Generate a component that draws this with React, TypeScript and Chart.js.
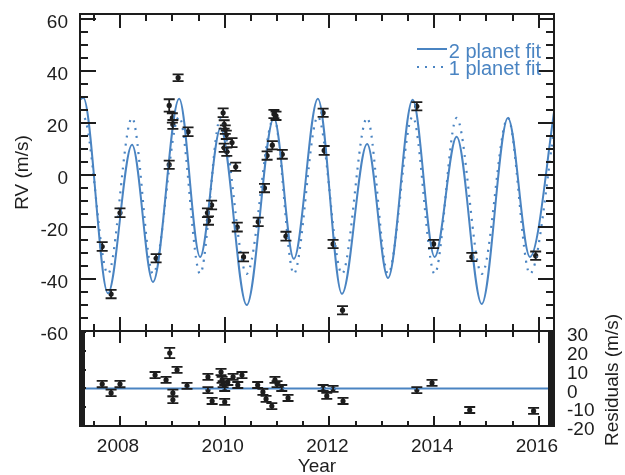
import React, { useEffect, useRef } from 'react';
import { Chart, registerables } from 'chart.js';

Chart.register(...registerables);

const FONT = "'Liberation Sans', Arial, Helvetica, sans-serif";
const BLUE = '#4a84c2';
const INK = '#1d1d1d';

// ---- axes ----
const X_MIN = 2007.236;
const X_MAX = 2016.29;
const xTickLabels = [2008, 2010, 2012, 2014, 2016];
const xMinorTicks = [2007.5, 2008, 2008.5, 2009, 2009.5, 2010, 2010.5, 2011, 2011.5, 2012, 2012.5, 2013, 2013.5, 2014, 2014.5, 2015, 2015.5, 2016];
const rvTickLabels = [-60, -40, -20, 0, 20, 40, 60];
const rvMinorTicks = [-60, -55, -50, -45, -40, -35, -30, -25, -20, -15, -10, -5, 0, 5, 10, 15, 20, 25, 30, 35, 40, 45, 50, 55, 60];
const resTickLabels = [-20, -10, 0, 10, 20, 30];

// ---- model curves (extrema) ----
const fitYears = [2007.2, 2007.3, 2007.77, 2008.23, 2008.63, 2009.13, 2009.53, 2009.92, 2010.42, 2010.94, 2011.32, 2011.78, 2012.24, 2012.72, 2013.12, 2013.59, 2014.01, 2014.43, 2014.91, 2015.41, 2015.83, 2016.33];
const twoPlanetFit = [28.5, 29.8, -45.5, 11.7, -41.1, 29.4, -31.5, 18, -50, 22, -32.2, 29.4, -45.7, 12, -39.6, 29, -31.5, 14.8, -49.6, 22, -31.5, 29.5];
const onePlanetFit = [21.5, 22.5, -38, 22, -38, 22.5, -38, 22, -38, 22, -38, 22.5, -38, 22, -38, 22.5, -38, 22, -38, 22, -38, 22.5];

// ---- RV observations ----
const rvYears = [2007.66, 2007.83, 2008.0, 2008.69, 2008.94, 2008.94, 2009.0, 2009.01, 2009.11, 2009.3, 2009.67, 2009.69, 2009.75, 2009.97, 2009.99, 2010.01, 2010.03, 2009.99, 2010.04, 2010.14, 2010.21, 2010.24, 2010.36, 2010.64, 2010.76, 2010.81, 2010.91, 2010.94, 2010.98, 2011.1, 2011.17, 2011.88, 2011.9, 2012.07, 2012.25, 2013.67, 2013.99, 2014.72, 2015.94];
const rvValues = [-27.5, -45.8, -14.5, -32, 4, 26.8, 22, 19.5, 37.5, 16.7, -14.5, -17.5, -11.5, 24, 19.5, 17.5, 15.5, 10.5, 9, 12.5, 3.2, -20, -31.5, -18, -5, 7.5, 11.5, 23.5, 22.8, 8, -23.5, 24, 9.5, -26.5, -52, 26.5, -26.5, -31.5, -31];
const rvErrors = [1.7, 1.6, 1.7, 1.6, 1.6, 2.4, 1.8, 1.7, 1.3, 1.7, 1.7, 1.6, 1.7, 1.7, 1.6, 1.6, 1.6, 1.6, 1.6, 1.7, 1.6, 1.7, 1.7, 1.6, 1.6, 1.6, 1.6, 1.6, 1.6, 1.7, 1.7, 1.6, 1.7, 1.6, 1.6, 1.6, 1.6, 1.6, 1.6];

// ---- residuals ----
const resYears = [2007.66, 2007.83, 2008.0, 2008.67, 2008.88, 2008.95, 2009.01, 2009.01, 2009.09, 2009.28, 2009.68, 2009.68, 2009.76, 2009.93, 2009.95, 2009.97, 2010.0, 2010.0, 2010.06, 2010.16, 2010.25, 2010.33, 2010.63, 2010.73, 2010.79, 2010.9, 2010.96, 2011.0, 2011.09, 2011.21, 2011.88, 2011.95, 2012.07, 2012.26, 2013.67, 2013.96, 2014.68, 2015.9];
const resValues = [2.3, -2.4, 2.3, 7.1, 4.5, 18.8, -2.4, -6.1, 9.8, 1.3, 6.1, -0.9, -6.7, 8.7, 4.5, 2.3, 0.2, -7.2, 3.4, 6.1, 1.8, 7.1, 1.8, -1.9, -5.6, -9.4, 4.5, 2.3, 0.2, -5.1, 0.2, -4, -0.3, -6.7, -0.9, 2.9, -11.5, -12];
const resErrors = [1.7, 1.7, 1.7, 1.6, 1.6, 2.7, 1.7, 1.7, 1.6, 1.6, 1.6, 1.6, 1.6, 1.7, 1.6, 1.6, 1.6, 1.6, 1.6, 1.6, 1.6, 1.6, 1.6, 1.6, 1.6, 1.6, 1.6, 1.6, 1.6, 1.6, 1.6, 1.6, 1.6, 1.6, 1.6, 1.6, 1.6, 1.6];

// canvas placement (page px)
const BOT_TOP = 290;
const BOT_H = 200;

type FrameCfg = {
  yTicks: number[];
  yMajor: number[];
  topMajor: number; topMinor: number;
  botMajor: number; botMinor: number;
  sideMajor: number; sideMinor: number;
  barL: number; barR: number;
};

function makeFramePlugin(id: string, cfg: FrameCfg) {
  return {
    id,
    afterDatasetsDraw(chart: any) {
      const { ctx, chartArea } = chart;
      const { left, right, top, bottom } = chartArea;
      const xs = chart.scales.x;
      const ys = chart.scales.y;
      ctx.save();
      ctx.strokeStyle = INK;
      ctx.fillStyle = INK;
      ctx.lineWidth = 2;
      ctx.lineCap = 'butt';
      ctx.setLineDash([]);
      ctx.beginPath();
      xMinorTicks.forEach((v) => {
        const px = Math.round(xs.getPixelForValue(v));
        const major = xTickLabels.includes(v);
        const tl = major ? cfg.topMajor : cfg.topMinor;
        const bl = major ? cfg.botMajor : cfg.botMinor;
        ctx.moveTo(px, top);
        ctx.lineTo(px, top + tl);
        ctx.moveTo(px, bottom);
        ctx.lineTo(px, bottom - bl);
      });
      cfg.yTicks.forEach((v) => {
        const py = Math.round(ys.getPixelForValue(v));
        if (py < top - 0.5 || py > bottom + 0.5) return;
        const major = cfg.yMajor.includes(v);
        const len = major ? cfg.sideMajor : cfg.sideMinor;
        ctx.moveTo(left, py);
        ctx.lineTo(left + len, py);
        ctx.moveTo(right, py);
        ctx.lineTo(right - len, py);
      });
      ctx.stroke();
      ctx.strokeRect(left, top, right - left, bottom - top);
      if (cfg.barL) ctx.fillRect(left, top, cfg.barL, bottom - top);
      if (cfg.barR) ctx.fillRect(right - cfg.barR, top, cfg.barR, bottom - top);
      ctx.restore();
    },
  };
}

function makeErrorBarPlugin(id: string, datasetIndex: number, errors: number[]) {
  return {
    id,
    afterDatasetsDraw(chart: any) {
      const { ctx } = chart;
      const ds = chart.data.datasets[datasetIndex];
      const xs = chart.scales.x;
      const ys = chart.scales.y;
      ctx.save();
      ctx.strokeStyle = INK;
      ctx.lineWidth = 1.8;
      ctx.setLineDash([]);
      ctx.beginPath();
      ds.data.forEach((p: any, i: number) => {
        const px = xs.getPixelForValue(p.x);
        const y1 = ys.getPixelForValue(p.y - errors[i]);
        const y2 = ys.getPixelForValue(p.y + errors[i]);
        ctx.moveTo(px, y1);
        ctx.lineTo(px, y2);
        ctx.moveTo(px - 5.5, y1);
        ctx.lineTo(px + 5.5, y1);
        ctx.moveTo(px - 5.5, y2);
        ctx.lineTo(px + 5.5, y2);
      });
      ctx.stroke();
      ctx.restore();
    },
  };
}

const legendPlugin = {
  id: 'fitLegend',
  afterDatasetsDraw(chart: any) {
    const { ctx } = chart;
    const two = chart.data.datasets[1].label;
    const one = chart.data.datasets[0].label;
    ctx.save();
    ctx.font = `20px ${FONT}`;
    ctx.fillStyle = BLUE;
    ctx.textAlign = 'right';
    ctx.textBaseline = 'middle';
    ctx.fillText(two, 541, 52);
    ctx.fillText(one, 541, 69);
    ctx.strokeStyle = BLUE;
    ctx.lineWidth = 2;
    ctx.beginPath();
    ctx.moveTo(417, 49);
    ctx.lineTo(447, 49);
    ctx.stroke();
    ctx.setLineDash([2, 6]);
    ctx.beginPath();
    ctx.moveTo(417, 67);
    ctx.lineTo(449, 67);
    ctx.stroke();
    ctx.restore();
  },
};

const residualTitlePlugin = {
  id: 'resTitle',
  afterDraw(chart: any) {
    const { ctx } = chart;
    ctx.save();
    ctx.font = `19px ${FONT}`;
    ctx.fillStyle = INK;
    ctx.textAlign = 'center';
    ctx.textBaseline = 'middle';
    ctx.translate(613, 380 - BOT_TOP);
    ctx.rotate(-Math.PI / 2);
    ctx.fillText('Residuals (m/s)', 0, 0);
    ctx.restore();
  },
};

const tickFont = { family: FONT, size: 19 };

export default function App() {
  const topRef = useRef<HTMLCanvasElement>(null);
  const botRef = useRef<HTMLCanvasElement>(null);

  useEffect(() => {
    const topChart = new Chart(topRef.current as HTMLCanvasElement, {
      type: 'line',
      data: {
        datasets: [
          {
            label: '1 planet fit',
            data: fitYears.map((x, i) => ({ x, y: onePlanetFit[i] })),
            borderColor: BLUE,
            borderWidth: 2.2,
            borderDash: [2, 6],
            pointRadius: 0,
            cubicInterpolationMode: 'monotone',
            fill: false,
          },
          {
            label: '2 planet fit',
            data: fitYears.map((x, i) => ({ x, y: twoPlanetFit[i] })),
            borderColor: BLUE,
            borderWidth: 2,
            pointRadius: 0,
            cubicInterpolationMode: 'monotone',
            fill: false,
          },
          {
            label: 'RV',
            data: rvYears.map((x, i) => ({ x, y: rvValues[i] })),
            showLine: false,
            pointRadius: 2.6,
            pointBackgroundColor: INK,
            pointBorderWidth: 0,
            borderColor: INK,
          },
        ],
      } as any,
      options: {
        responsive: false,
        animation: false,
        events: [],
        layout: { padding: { top: 14, right: 71, bottom: 19, left: 0 } },
        plugins: { legend: { display: false }, tooltip: { enabled: false } },
        scales: {
          x: { type: 'linear', min: X_MIN, max: X_MAX, display: false },
          y: {
            type: 'linear',
            position: 'left',
            min: -60,
            max: 62,
            afterBuildTicks: (s: any) => {
              s.ticks = rvTickLabels.map((v) => ({ value: v }));
            },
            afterFit: (s: any) => {
              s.width = 80;
              s.paddingTop = 0;
              s.paddingBottom = 0;
            },
            grid: { display: false, drawTicks: false },
            border: { display: false },
            ticks: {
              padding: 12,
              labelOffset: 4,
              autoSkip: false,
              color: INK,
              font: tickFont,
              callback: (v: any) => String(v),
            },
            title: {
              display: true,
              text: 'RV (m/s)',
              color: INK,
              font: tickFont,
              padding: { top: 11, bottom: 0 },
            },
          },
        },
      } as any,
      plugins: [
        makeFramePlugin('frameTop', {
          yTicks: rvMinorTicks,
          yMajor: rvTickLabels,
          topMajor: 14, topMinor: 7,
          botMajor: 14, botMinor: 7,
          sideMajor: 16, sideMinor: 8,
          barL: 0, barR: 0,
        }),
        makeErrorBarPlugin('errTop', 2, rvErrors),
        legendPlugin,
      ],
    });

    const botChart = new Chart(botRef.current as HTMLCanvasElement, {
      type: 'line',
      data: {
        datasets: [
          {
            label: 'zero',
            data: [{ x: X_MIN, y: 0 }, { x: X_MAX, y: 0 }],
            borderColor: BLUE,
            borderWidth: 2,
            pointRadius: 0,
          },
          {
            label: 'Residuals',
            data: resYears.map((x, i) => ({ x, y: resValues[i] })),
            showLine: false,
            pointRadius: 2.6,
            pointBackgroundColor: INK,
            pointBorderWidth: 0,
            borderColor: INK,
          },
        ],
      } as any,
      options: {
        responsive: false,
        animation: false,
        events: [],
        layout: { padding: { top: 331 - BOT_TOP, right: 0, bottom: 0, left: 80 } },
        plugins: { legend: { display: false }, tooltip: { enabled: false } },
        scales: {
          x: {
            type: 'linear',
            position: 'bottom',
            min: X_MIN,
            max: X_MAX,
            afterBuildTicks: (s: any) => {
              s.ticks = xTickLabels.map((v) => ({ value: v }));
            },
            afterFit: (s: any) => {
              s.height = BOT_TOP + BOT_H - 426;
              s.paddingLeft = 0;
              s.paddingRight = 0;
            },
            grid: { display: false, drawTicks: false },
            border: { display: false },
            ticks: {
              padding: 9,
              labelOffset: -2,
              maxRotation: 0,
              autoSkip: false,
              color: INK,
              font: tickFont,
              callback: (v: any) => String(v),
            },
            title: {
              display: true,
              text: 'Year',
              color: INK,
              font: tickFont,
              padding: { top: 0, bottom: BOT_TOP + BOT_H - 467 - 11.4 },
            },
          },
          y: {
            type: 'linear',
            position: 'right',
            min: -20,
            max: 30.5,
            afterBuildTicks: (s: any) => {
              s.ticks = resTickLabels.map((v) => ({ value: v }));
            },
            afterFit: (s: any) => {
              s.width = 71;
              s.paddingTop = 0;
              s.paddingBottom = 0;
            },
            grid: { display: false, drawTicks: false },
            border: { display: false },
            ticks: {
              padding: 13,
              labelOffset: 4,
              autoSkip: false,
              color: INK,
              font: tickFont,
              callback: (v: any) => String(v),
            },
          },
        },
      } as any,
      plugins: [
        makeFramePlugin('frameBot', {
          yTicks: resTickLabels,
          yMajor: [],
          topMajor: 12, topMinor: 6,
          botMajor: 10, botMinor: 5,
          sideMajor: 6, sideMinor: 6,
          barL: 5, barR: 6,
        }),
        makeErrorBarPlugin('errBot', 1, resErrors),
        residualTitlePlugin,
      ],
    });

    return () => {
      topChart.destroy();
      botChart.destroy();
    };
  }, []);

  return (
    <div
      style={{
        position: 'absolute',
        left: 0,
        top: 0,
        width: 625,
        height: 475,
        overflow: 'hidden',
        background: '#ffffff',
      }}
    >
      <canvas ref={topRef} width={625} height={350} style={{ position: 'absolute', left: 0, top: 0 }} />
      <canvas ref={botRef} width={625} height={BOT_H} style={{ position: 'absolute', left: 0, top: BOT_TOP }} />
    </div>
  );
}
